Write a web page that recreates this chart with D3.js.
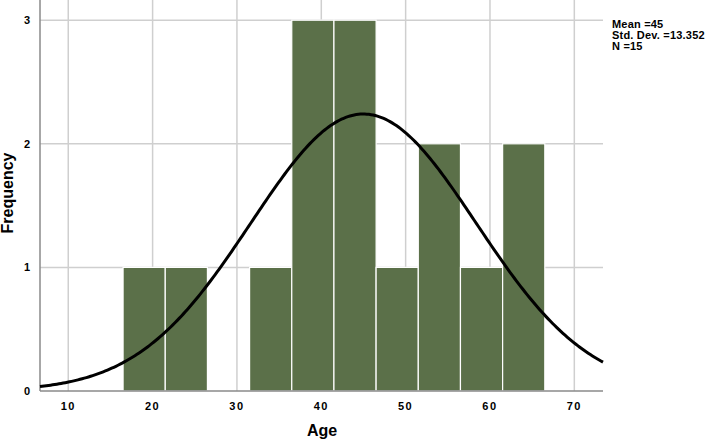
<!DOCTYPE html>
<html>
<head>
<meta charset="utf-8">
<script src="https://cdn.jsdelivr.net/npm/d3@7"></script>
<style>
  body { margin: 0; background: #fff; }
  text { font-family: "Liberation Sans", Arial, sans-serif; font-weight: bold; fill: #000; }
</style>
</head>
<body>
<svg id="chart"></svg>
<script>
// bins of Age (width 5) and their counts
const binStarts = [16.5, 21.5, 26.5, 31.5, 36.5, 41.5, 46.5, 51.5, 56.5, 61.5]
const counts = [1, 1, 0, 1, 3, 3, 1, 2, 1, 2]
const binWidth = 5
const xTicks = [10, 20, 30, 40, 50, 60, 70]
const yTicks = [0, 1, 2, 3]
const statLabels = ['Mean =45', 'Std. Dev. =13.352', 'N =15']
const mean = 45
const sd = 13.352
const n = 15

const w = 706
const h = 440
const margin = { left: 40, right: 103, top: 0, bottom: 49 }

const svg = d3.select('#chart')
    .attr('width', w)
    .attr('height', h)

const x = d3.scaleLinear()
    .domain([6.65, 73.4])
    .range([margin.left, w - margin.right])
const y = d3.scaleLinear()
    .domain([0, 3])
    .range([h - margin.bottom, 20.2])

// grid lines
svg.append('g')
    .selectAll('line')
    .data(xTicks)
    .join('line')
    .attr('x1', d => x(d)).attr('x2', d => x(d))
    .attr('y1', margin.top).attr('y2', y(0))
    .attr('stroke', '#cfcfcf').attr('stroke-width', 1.5)
svg.append('g')
    .selectAll('line')
    .data(yTicks.slice(1))
    .join('line')
    .attr('x1', margin.left).attr('x2', w - margin.right)
    .attr('y1', d => y(d)).attr('y2', d => y(d))
    .attr('stroke', '#cfcfcf').attr('stroke-width', 1.5)

// bars
svg.append('g')
    .selectAll('rect')
    .data(binStarts.map((s, i) => ({ s, c: counts[i] })).filter(d => d.c > 0))
    .join('rect')
    .attr('x', d => x(d.s))
    .attr('y', d => y(d.c))
    .attr('width', d => x(d.s + binWidth) - x(d.s))
    .attr('height', d => y(0) - y(d.c))
    .attr('fill', '#5b7049')
    .attr('stroke', '#fff')
    .attr('stroke-width', 1.2)

// axes lines
svg.append('line')
    .attr('x1', margin.left).attr('x2', margin.left)
    .attr('y1', margin.top).attr('y2', y(0))
    .attr('stroke', '#8a8a8a').attr('stroke-width', 1.5)
svg.append('line')
    .attr('x1', margin.left).attr('x2', w - margin.right)
    .attr('y1', y(0)).attr('y2', y(0))
    .attr('stroke', '#8a8a8a').attr('stroke-width', 1.5)

// normal curve from the stats
const peak = n * binWidth / (sd * Math.sqrt(2 * Math.PI))
const curve = d3.range(x.domain()[0], x.domain()[1] + 0.01, 0.25)
    .map(v => [v, peak * Math.exp(-0.5 * ((v - mean) / sd) ** 2)])
svg.append('path')
    .datum(curve)
    .attr('fill', 'none')
    .attr('stroke', '#000')
    .attr('stroke-width', 3)
    .attr('d', d3.line().x(d => x(d[0])).y(d => y(d[1])))

// tick labels
svg.append('g')
    .selectAll('text')
    .data(xTicks)
    .join('text')
    .attr('x', d => x(d))
    .attr('y', 410)
    .attr('text-anchor', 'middle')
    .attr('font-size', 11)
    .attr('letter-spacing', 1.5)
    .text(d => d)
svg.append('g')
    .selectAll('text')
    .data(yTicks)
    .join('text')
    .attr('x', 30)
    .attr('y', d => y(d) + 4)
    .attr('text-anchor', 'end')
    .attr('font-size', 11)
    .text(d => d)

// axis titles
svg.append('text')
    .attr('x', 322)
    .attr('y', 436)
    .attr('text-anchor', 'middle')
    .attr('font-size', 16)
    .text('Age')
svg.append('text')
    .attr('transform', 'translate(13, 193) rotate(-90)')
    .attr('text-anchor', 'middle')
    .attr('font-size', 16)
    .text('Frequency')

// stats box
svg.append('g')
    .selectAll('text')
    .data(statLabels)
    .join('text')
    .attr('x', 612)
    .attr('y', (d, i) => 28 + i * 11)
    .attr('font-size', 11)
    .attr('letter-spacing', 0.2)
    .text(d => d)
</script>
</body>
</html>
